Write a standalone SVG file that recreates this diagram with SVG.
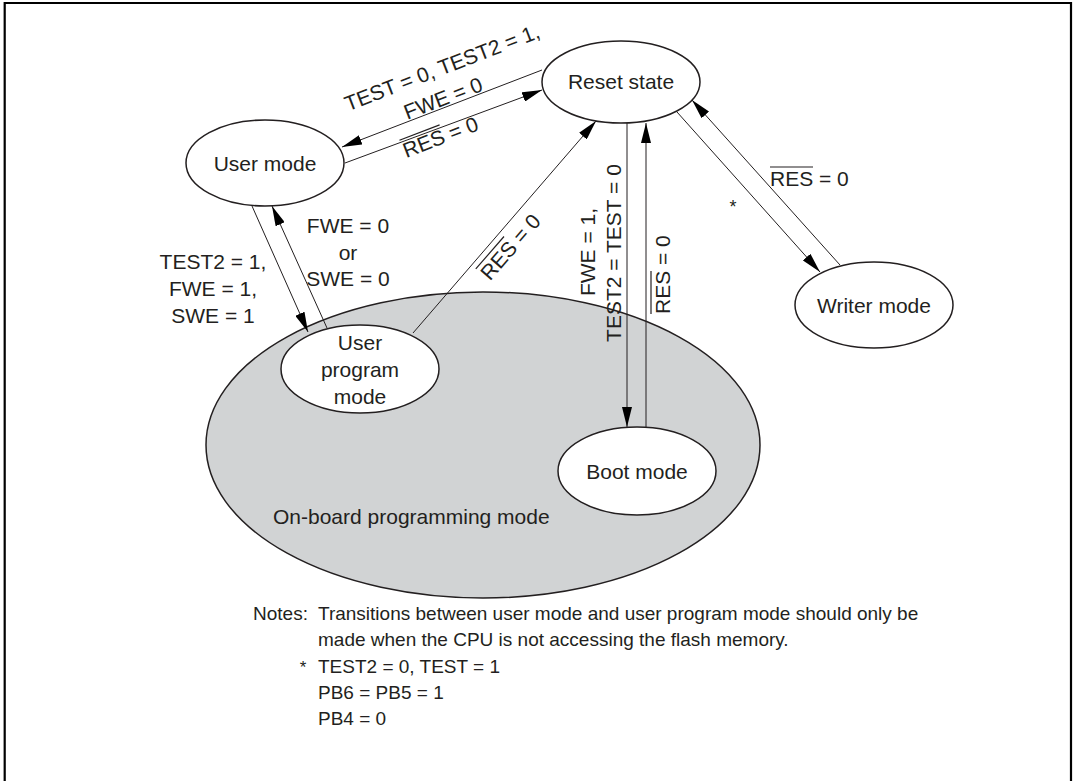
<svg xmlns="http://www.w3.org/2000/svg" width="1074" height="781" viewBox="0 0 1074 781">
<defs>
<marker id="ah" markerUnits="userSpaceOnUse" markerWidth="20" markerHeight="10" refX="20" refY="5" orient="auto">
<path d="M0,0 L20,5 L0,10 z" fill="#000"/>
</marker>
<style>
text{font-family:"Liberation Sans",Arial,Helvetica,sans-serif;font-size:21px;fill:#231f20}
.node{fill:#fff;stroke:#231f20;stroke-width:1.5}
.c{fill:none;stroke:#231f20;stroke-width:1}
.a{marker-end:url(#ah)}
.ol{stroke:#231f20;stroke-width:1.2}
.n{font-size:19px}
</style>
</defs>
<rect width="1074" height="781" fill="#fff"/>
<path d="M4.7,781 V3 H1071 V781" fill="none" stroke="#000" stroke-width="2.2"/>

<g id="onboard">
<ellipse cx="483" cy="445" rx="277" ry="153" fill="#d1d3d4" stroke="#231f20" stroke-width="1.5"/>
<text x="273" y="524">On-board programming mode</text>
</g>

<g id="connectors">
<line class="c a" x1="542" y1="70" x2="342" y2="147"/>
<line class="c a" x1="345" y1="163" x2="542" y2="90"/>
<line class="c a" x1="252" y1="206" x2="308" y2="332"/>
<line class="c a" x1="327" y1="328" x2="272" y2="206"/>
<line class="c a" x1="413" y1="333" x2="596" y2="121"/>
<line class="c a" x1="627" y1="123" x2="627" y2="427"/>
<line class="c a" x1="646" y1="427" x2="646" y2="123"/>
<line class="c a" x1="677" y1="112" x2="820" y2="272"/>
<line class="c a" x1="840" y1="265" x2="692" y2="100"/>
</g>

<g id="reset">
<ellipse class="node" cx="621" cy="82" rx="79" ry="41"/>
<text x="621" y="89" text-anchor="middle">Reset state</text>
</g>
<g id="user">
<ellipse class="node" cx="265" cy="163" rx="79" ry="43"/>
<text x="265" y="171" text-anchor="middle">User mode</text>
</g>
<g id="writer">
<ellipse class="node" cx="874" cy="305" rx="79" ry="43"/>
<text x="874" y="313" text-anchor="middle">Writer mode</text>
</g>
<g id="userprog">
<ellipse class="node" cx="360" cy="369" rx="79" ry="44"/>
<text x="360" y="350" text-anchor="middle">User</text>
<text x="360" y="377" text-anchor="middle">program</text>
<text x="360" y="404" text-anchor="middle">mode</text>
</g>
<g id="boot">
<ellipse class="node" cx="637" cy="471" rx="79" ry="44"/>
<text x="637" y="479" text-anchor="middle">Boot mode</text>
</g>

<g id="labels">
<g transform="translate(443,98) rotate(-21)">
<text x="10" y="-21.5" text-anchor="middle">TEST = 0, TEST2 = 1,</text>
<text x="0" y="7.5" text-anchor="middle">FWE = 0</text>
</g>
<g transform="translate(440,137) rotate(-21)">
<text x="-39" y="7.5">RES = 0</text>
<line class="ol" x1="-39" y1="-11.5" x2="4" y2="-11.5"/>
</g>
<text x="348" y="233" text-anchor="middle">FWE = 0</text>
<text x="348" y="259.5" text-anchor="middle">or</text>
<text x="348" y="286" text-anchor="middle">SWE = 0</text>
<text x="213" y="269" text-anchor="middle">TEST2 = 1,</text>
<text x="213" y="296" text-anchor="middle">FWE = 1,</text>
<text x="213" y="323" text-anchor="middle">SWE = 1</text>
<g transform="translate(515.7,252) rotate(-49)">
<text x="-39" y="0">RES = 0</text>
<line class="ol" x1="-39" y1="-19" x2="4" y2="-19"/>
</g>
<g transform="translate(595,252) rotate(-90)">
<text x="0" y="0" text-anchor="middle">FWE = 1,</text>
</g>
<g transform="translate(621,253) rotate(-90)">
<text x="0" y="0" text-anchor="middle">TEST2 = TEST = 0</text>
</g>
<g transform="translate(670,275) rotate(-90)">
<text x="-39" y="0">RES = 0</text>
<line class="ol" x1="-39" y1="-19" x2="4" y2="-19"/>
</g>
<text x="770" y="186">RES = 0</text>
<line class="ol" x1="770" y1="167" x2="813" y2="167"/>
<text x="733" y="213" text-anchor="middle" style="font-size:18px">*</text>
</g>

<g id="notes">
<text class="n" x="253" y="620">Notes:</text>
<text class="n" x="318" y="620">Transitions between user mode and user program mode should only be</text>
<text class="n" x="318" y="646">made when the CPU is not accessing the flash memory.</text>
<text class="n" x="303" y="673" text-anchor="middle" style="font-size:17px">*</text>
<text class="n" x="318" y="673">TEST2 = 0, TEST = 1</text>
<text class="n" x="318" y="699">PB6 = PB5 = 1</text>
<text class="n" x="318" y="725">PB4 = 0</text>
</g>
</svg>
